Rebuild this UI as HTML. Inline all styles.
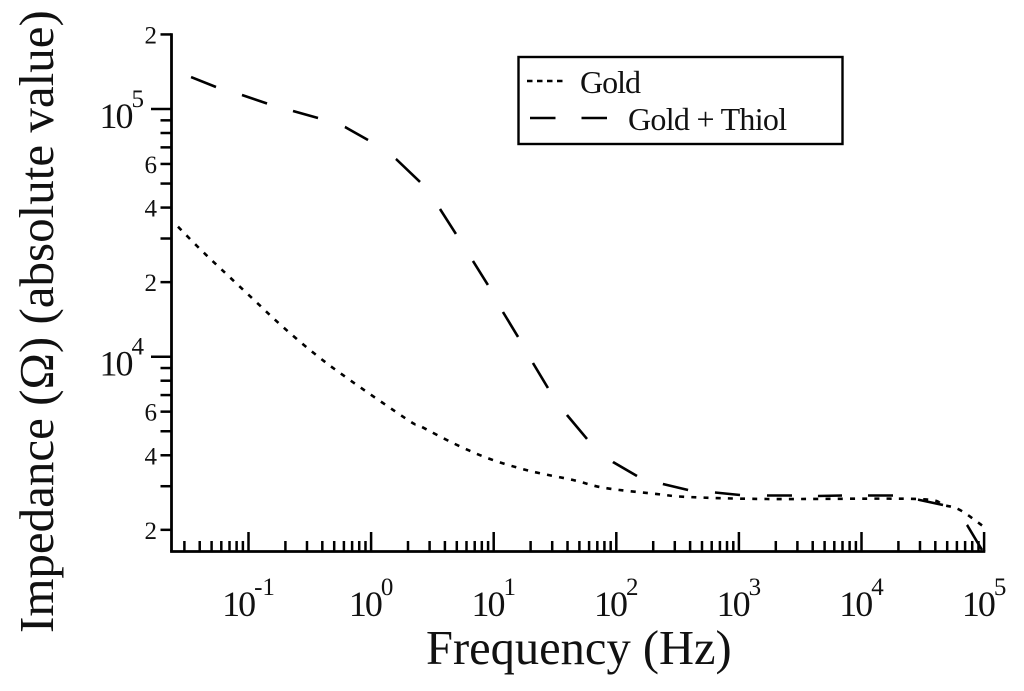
<!DOCTYPE html>
<html>
<head>
<meta charset="utf-8">
<title>Impedance vs frequency</title>
<style>
html,body{margin:0;padding:0;background:#fff;}
svg{display:block;filter:blur(.3px);}
text{font-family:"Liberation Serif","DejaVu Serif",serif;fill:#111;}
</style>
</head>
<body>
<svg id="chart" xmlns="http://www.w3.org/2000/svg" width="1024" height="691" viewBox="0 0 1024 691">
<rect width="1024" height="691" fill="#fff"/>
<g id="ticks"></g>
<g id="labels"></g>
<g id="series"></g>
<text transform="translate(53,633) rotate(-90)" font-size="49">Impedance (Ω) (absolute value)</text>
<text x="426" y="664" font-size="48.5">Frequency (Hz)</text>
<g>
<rect x="518.5" y="57" width="324" height="87" fill="#fff" stroke="#000" stroke-width="2.4"/>
<line x1="527" y1="81" x2="564" y2="81" stroke="#000" stroke-width="2.5" stroke-dasharray="5.5 4.5"/>
<text x="580" y="93" font-size="32" letter-spacing="-1">Gold</text>
<line x1="530" y1="118" x2="607" y2="118" stroke="#000" stroke-width="2.6" stroke-dasharray="25.5 26"/>
<text x="628" y="130" font-size="32" letter-spacing="-0.7">Gold + Thiol</text>
</g>
</svg>
<script>
// Axis domain (log10 decades)
const xDecades = [-1, 0, 1, 2, 3, 4, 5];
const yDecades = [3, 4, 5];
const yLabelledMinors = [2, 4, 6];
const minorMultiples = [2, 3, 4, 5, 6, 7, 8, 9];

// Gold + Thiol: the samples alternate between the two ends of each visible dash and gap
const thiolFrequency = [0.034, 0.0543, 0.0885, 0.1416, 0.2307, 0.369, 0.612, 0.944, 1.596, 2.506, 3.648, 4.92, 6.78, 8.97, 11.9, 15.8, 20.9, 27.7, 39.6, 57.7, 94, 147.5, 240, 385, 638, 1021, 1695, 2710, 4416, 6934, 11300, 18070, 28900, 46240, 72600, 96200];
const thiolImpedance = [134600, 122700, 113900, 105250, 98150, 91980, 84600, 74950, 62830, 50740, 39470, 31290, 24340, 19480, 15150, 12010, 9432, 7475, 5815, 4654, 3757, 3299, 3063, 2896, 2830, 2765, 2752, 2752, 2739, 2752, 2752, 2752, 2649, 2520, 2092, 1658];

// Gold
const goldFrequency = [0.0266, 0.0402, 0.0597, 0.1088, 0.1911, 0.3486, 0.6357, 2.0, 2.506, 4.83, 9.33, 19.8, 44.4, 80.9, 215, 385, 1695, 28380, 46240, 63550, 100000];
const goldImpedance = [33480, 27220, 22600, 17100, 13180, 10250, 8204, 5551, 5251, 4442, 3864, 3456, 3178, 2951, 2790, 2714, 2664, 2664, 2520, 2405, 2054];

const NS = 'http://www.w3.org/2000/svg';
const xScale = v => 248.5 + (Math.log10(v) + 1) * 122.6;
const yScale = v => 109 + (5 - Math.log10(v)) * 247.7;
const axisLeft = 171.5, axisBottom = 551.5;
const xMin = 0.0235, xMax = 100000, yMin = 1634, yMax = 200000;

function mk(tag, parent, attrs) {
  const el = document.createElementNS(NS, tag);
  for (const k in attrs) el.setAttribute(k, attrs[k]);
  parent.appendChild(el);
  return el;
}
const ticks = document.getElementById('ticks');
const labels = document.getElementById('labels');
const tickStyle = {stroke: '#000', 'stroke-width': 2.5};

// Axis lines
const xAxis = mk('line', ticks, {x1: axisLeft - 1.4, y1: axisBottom, x2: xScale(xMax) + 1.2, y2: axisBottom, stroke: '#000', 'stroke-width': 2.8});


const yAxis = mk('line', ticks, {x1: axisLeft, y1: yScale(yMax) - 1.2, x2: axisLeft, y2: axisBottom, stroke: '#000', 'stroke-width': 2.8});



// X ticks
for (const d of [-2].concat(xDecades)) {
  const base = Math.pow(10, d);
  if (base >= xMin) {
    const t = mk('line', ticks, Object.assign({x1: xScale(base), x2: xScale(base), y1: axisBottom, y2: 532}, tickStyle));
    
    
  }
  for (const m of minorMultiples) {
    const v = base * m;
    if (v < xMin || v > xMax) continue;
    const t = mk('line', ticks, Object.assign({x1: xScale(v), x2: xScale(v), y1: axisBottom, y2: 541}, tickStyle));
    
    
  }
}
// Y ticks
for (const d of yDecades) {
  const base = Math.pow(10, d);
  if (d > 3) {
    const t = mk('line', ticks, Object.assign({x1: 151, x2: axisLeft, y1: yScale(base), y2: yScale(base)}, tickStyle));
    
    
  }
  for (const m of minorMultiples) {
    const v = base * m;
    if (v < yMin || v > yMax) continue;
    const t = mk('line', ticks, Object.assign({x1: 160.5, x2: axisLeft, y1: yScale(v), y2: yScale(v)}, tickStyle));
    
    
    if (yLabelledMinors.includes(m)) {
      const l = mk('text', labels, {x: 157, y: yScale(v) + 9, 'text-anchor': 'end', 'font-size': 25});
      l.textContent = String(m);
      
      
    }
  }
}
function powerLabel(parent, x, y, exp, anchor) {
  const t = mk('text', parent, {x: x, y: y, 'text-anchor': anchor, 'font-size': 36});
  const a = mk('tspan', t, {'letter-spacing': -2});
  a.textContent = '10';
  const b = mk('tspan', t, {dy: -21, 'font-size': 25});
  b.textContent = String(exp);
  return t;
}
for (const d of xDecades) {
  const l = powerLabel(labels, xScale(Math.pow(10, d)), 616, d, 'middle');
  
  
}
for (const d of yDecades) {
  if (d === 3) continue;
  const l = powerLabel(labels, 144, yScale(Math.pow(10, d)) + 19, d, 'end');
  
  
}

// Series
const seriesGroup = document.getElementById('series');
function pathFrom(xs, ys) {
  return xs.map((x, i) => (i ? 'L' : 'M') + xScale(x).toFixed(2) + ' ' + yScale(ys[i]).toFixed(2)).join(' ');
}
// Smooth curve through the samples (Catmull-Rom converted to cubic Beziers)
function smoothPathFrom(xs, ys) {
  const p = xs.map((x, i) => [xScale(x), yScale(ys[i])]);
  let d = 'M' + p[0][0].toFixed(2) + ' ' + p[0][1].toFixed(2);
  for (let i = 0; i < p.length - 1; i++) {
    const a = p[Math.max(i - 1, 0)], b = p[i], c = p[i + 1], e = p[Math.min(i + 2, p.length - 1)];
    const c1 = [b[0] + (c[0] - a[0]) / 6, b[1] + (c[1] - a[1]) / 6];
    const c2 = [c[0] - (e[0] - b[0]) / 6, c[1] - (e[1] - b[1]) / 6];
    d += ' C' + c1[0].toFixed(2) + ' ' + c1[1].toFixed(2) + ' ' + c2[0].toFixed(2) + ' ' + c2[1].toFixed(2) + ' ' + c[0].toFixed(2) + ' ' + c[1].toFixed(2);
  }
  return d;
}
const goldLine = mk('path', seriesGroup, {d: smoothPathFrom(goldFrequency, goldImpedance), fill: 'none', stroke: '#000', 'stroke-width': 2.6, 'stroke-dasharray': '5 7.2'});



const thiolDashes = thiolFrequency.slice(1).map((x, i) =>
  Math.hypot(xScale(x) - xScale(thiolFrequency[i]), yScale(thiolImpedance[i + 1]) - yScale(thiolImpedance[i])).toFixed(2));
const thiolLine = mk('path', seriesGroup, {d: pathFrom(thiolFrequency, thiolImpedance), fill: 'none', stroke: '#000', 'stroke-width': 2.6, 'stroke-dasharray': thiolDashes.join(' ') + ' 0 1000'});


</script>
</body>
</html>
